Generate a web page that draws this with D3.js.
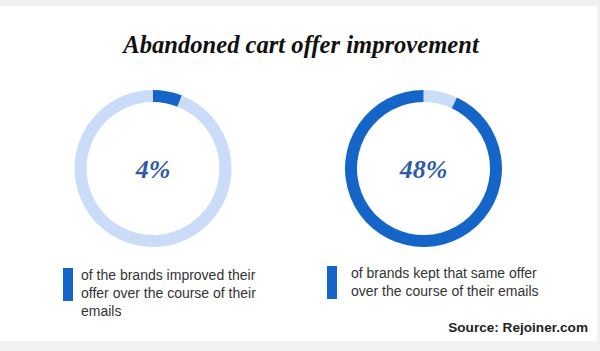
<!DOCTYPE html>
<html>
<head>
<meta charset="utf-8">
<script src="https://cdn.jsdelivr.net/npm/d3@7"></script>
<style>
  body { margin: 0; background: #f1f1f1; }
  svg { display: block; }
</style>
</head>
<body>
<svg id="chart" width="600" height="351"></svg>
<script>
// values
const centerLabels = ["4%", "48%"];
const filledShare = [6, 93];      // dark arc, percent of the ring as drawn
const captions = [
    ["of the brands improved their", "offer over the course of their", "emails"],
    ["of brands kept that same offer", "over the course of their emails"]
];
const chartTitle = "Abandoned cart offer improvement";
const sourceText = "Source: Rejoiner.com";

const svg = d3.select("#chart");
const width = 600, height = 351;

// white panel with thin grey frame
svg.append("rect")
    .attr("x", 0).attr("y", 6)
    .attr("width", 597).attr("height", 335)
    .attr("fill", "#ffffff");

svg.append("text")
    .attr("x", 301).attr("y", 53)
    .attr("text-anchor", "middle")
    .attr("font-family", "'Liberation Serif', 'Times New Roman', serif")
    .attr("font-style", "italic")
    .attr("font-weight", "bold")
    .attr("font-size", 24.6)
    .attr("fill", "#111")
    .text(chartTitle);

const centers = d3.scalePoint()
    .domain(d3.range(centerLabels.length))
    .range([153, 423.5]);

const outerR = 78.5, innerR = 66.5;
const arc = d3.arc().innerRadius(innerR).outerRadius(outerR);

filledShare.forEach((v, i) => {
    const g = svg.append("g")
        .attr("transform", `translate(${centers(i)},168.5)`);

    const pie = d3.pie().sort(null).value(d => d.v);
    // left donut starts with the dark arc, right one with the light gap
    const parts = i === 0
        ? [{ v: v, c: "#1565c8" }, { v: 100 - v, c: "#cadcf8" }]
        : [{ v: 100 - v, c: "#cadcf8" }, { v: v, c: "#1565c8" }];

    g.selectAll("path")
        .data(pie(parts))
        .join("path")
        .attr("d", arc)
        .attr("fill", d => d.data.c);

    g.append("text")
        .attr("y", 9)
        .attr("text-anchor", "middle")
        .attr("font-family", "'Liberation Serif', 'Times New Roman', serif")
        .attr("font-style", "italic")
        .attr("font-weight", "bold")
        .attr("font-size", 26)
        .attr("fill", "#2f5aa6")
        .text(centerLabels[i]);
});

// captions with blue marker bars
const capX = [63, 327], capY = [268, 266], capGap = [18, 24];
captions.forEach((lines, i) => {
    svg.append("rect")
        .attr("x", capX[i]).attr("y", capY[i])
        .attr("width", 10).attr("height", 33)
        .attr("fill", "#1565c8");

    svg.append("text")
        .attr("font-family", "'Liberation Sans', Arial, sans-serif")
        .attr("font-size", 14)
        .attr("fill", "#333")
        .selectAll("tspan")
        .data(lines)
        .join("tspan")
        .attr("x", capX[i] + capGap[i])
        .attr("y", (d, k) => capY[i] + 12 + k * 18)
        .text(d => d);
});

svg.append("text")
    .attr("x", 588).attr("y", 332)
    .attr("text-anchor", "end")
    .attr("font-family", "'Liberation Sans', Arial, sans-serif")
    .attr("font-weight", "bold")
    .attr("font-size", 13.6)
    .attr("fill", "#222")
    .text(sourceText);
</script>
</body>
</html>
